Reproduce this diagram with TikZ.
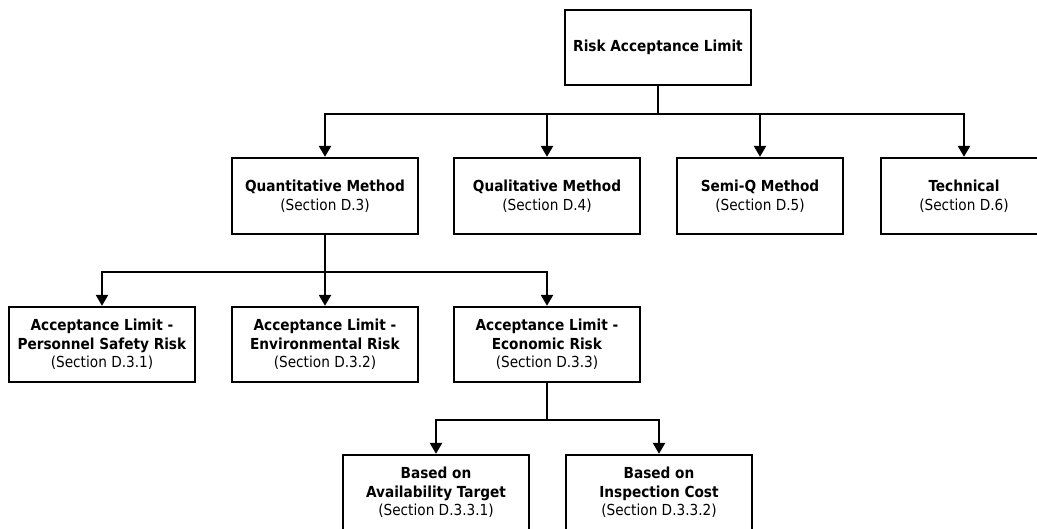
\documentclass[tikz,border=0pt]{standalone}
\usepackage{fontspec}
\setmainfont{DejaVu Sans Condensed}
\usetikzlibrary{arrows.meta}
\tikzstyle{process} = [rectangle, minimum width=186pt, minimum height=75pt, text centered, align=center, draw=black, line width=2.3pt, font=\fontsize{15.2}{18.5}\selectfont]
\tikzstyle{narrow} = [process, minimum width=166pt]
\tikzstyle{arrow} = [line width=2.3pt,->,>={Stealth[inset=0pt,length=11pt,width=12pt]}]

\begin{document}
\begin{tikzpicture}
        \useasboundingbox (0,0) rectangle (1037pt,-528pt);
        \clip (0,0) rectangle (1037pt,-528pt);

        \node (risk) [process] at (658pt,-47.5pt) {\textbf{Risk Acceptance Limit}};
        \node (quant) [process, minimum height=76pt] at (325pt,-196pt) {\textbf{Quantitative Method}\\(Section D.3)};
        \node (qual) [process, minimum height=76pt, right of=quant, node distance=222pt] {\textbf{Qualitative Method}\\(Section D.4)};
        \node (semiq) [narrow, minimum height=76pt, right of=qual, node distance=213pt] {\textbf{Semi-Q Method}\\(Section D.5)};
        \node (tech) [narrow, minimum height=76pt, right of=semiq, node distance=204pt] {\textbf{Technical}\\(Section D.6)};

        \node (env) [process, below of=quant, node distance=148.5pt] {\textbf{Acceptance Limit -}\\\textbf{Environmental Risk}\\(Section D.3.2)};
        \node (pers) [process, left of=env, node distance=223pt] {\textbf{Acceptance Limit -}\\\textbf{Personnel Safety Risk}\\(Section D.3.1)};
        \node (econ) [process, right of=env, node distance=222pt] {\textbf{Acceptance Limit -}\\\textbf{Economic Risk}\\(Section D.3.3)};

        \node (avail) [process] at (436pt,-492.5pt) {\textbf{Based on}\\\textbf{Availability Target}\\(Section D.3.3.1)};
        \node (cost) [process, right of=avail, node distance=223pt] {\textbf{Based on}\\\textbf{Inspection Cost}\\(Section D.3.3.2)};

            % Add arrows connecting the nodes
        \draw [arrow] (risk.south) -- ++(0,-28pt) -| (quant.north);
        \draw [arrow] (risk.south) -- ++(0,-28pt) -| (qual.north);
        \draw [arrow] (risk.south) -- ++(0,-28pt) -| (semiq.north);
        \draw [arrow] (risk.south) -- ++(0,-28pt) -| (tech.north);
        \draw [arrow] (quant.south) -- ++(0,-37pt) -| (pers.north);
        \draw [arrow] (quant.south) -- ++(0,-37pt) -| (env.north);
        \draw [arrow] (quant.south) -- ++(0,-37pt) -| (econ.north);
        \draw [arrow] (econ.south) -- ++(0,-37pt) -| (avail.north);
        \draw [arrow] (econ.south) -- ++(0,-37pt) -| (cost.north);
    \end{tikzpicture}
\end{document}
